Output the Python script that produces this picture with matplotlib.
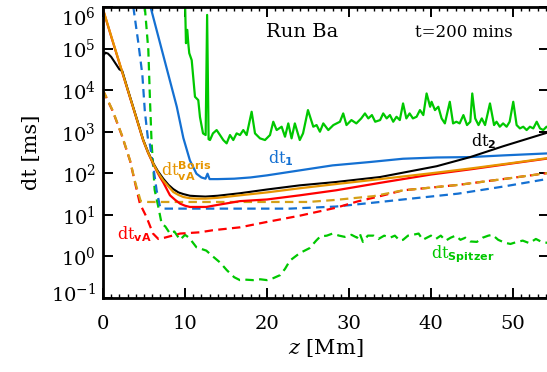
import numpy as np
import matplotlib.pyplot as plt
import matplotlib.transforms as mtransforms
from matplotlib.ticker import MultipleLocator, LogLocator, NullLocator

plt.rcParams['font.family'] = 'DejaVu Serif'
plt.rcParams['mathtext.fontset'] = 'custom'
plt.rcParams['mathtext.rm'] = 'DejaVu Serif'
plt.rcParams['mathtext.it'] = 'DejaVu Serif:italic'
plt.rcParams['mathtext.sf'] = 'DejaVu Sans:bold'

## values (height z in Mm, log10 of dt in ms)
z_dt2 = [0, 0.3, 0.6, 1.0, 1.5, 2.0, 2.35, 3.0, 4.0, 4.9, 5.5, 6.14, 6.7, 7.35, 8.0, 8.57,
         9.2, 9.8, 10.6, 11.4, 12.5, 14.0, 16.7, 20, 24, 28.4, 33.8, 40.7, 44.8, 48.8, 54.4]
log_dt2 = [4.82, 4.90, 4.88, 4.80, 4.65, 4.50, 4.46, 4.03, 3.39, 2.81, 2.51, 2.24, 2.05, 1.87,
           1.72, 1.62, 1.54, 1.50, 1.46, 1.45, 1.44, 1.46, 1.52, 1.61, 1.71, 1.79, 1.91, 2.17,
           2.39, 2.65, 2.99]

z_boris = [0, 1, 2, 3, 4, 4.9, 5.5, 6.14, 6.7, 7.35, 8.0, 8.57, 9.2, 9.8, 10.6, 11.4, 12.5,
           14.0, 16.7, 20, 24, 28.4, 33.8, 40, 45, 50, 54.4]
log_boris = [5.95, 5.30, 4.66, 4.02, 3.38, 2.80, 2.50, 2.23, 2.02, 1.83, 1.68, 1.55, 1.48,
             1.43, 1.40, 1.39, 1.39, 1.41, 1.47, 1.54, 1.64, 1.74, 1.86, 2.00, 2.12, 2.25, 2.37]

z_red = [0, 1, 2, 3, 4, 4.9, 5.5, 6.14, 6.7, 6.95, 7.35, 8.17, 8.8, 9.4, 10.0, 10.6, 12.6,
         14.0, 16.7, 20, 24, 28.4, 33.8, 40, 45, 50, 54.4]
log_red = [5.94, 5.29, 4.65, 4.01, 3.37, 2.79, 2.49, 2.22, 2.00, 1.91, 1.78, 1.47, 1.36,
           1.27, 1.22, 1.19, 1.19, 1.24, 1.33, 1.37, 1.47, 1.59, 1.77, 1.97, 2.10, 2.24, 2.36]

z_dt1 = [5.8, 6.6, 7.8, 9.0, 9.8, 10.6, 11.4, 12.0, 12.5, 12.75, 13.0, 14, 16, 18, 20, 24,
         28, 32.5, 36.6, 40.7, 44.8, 48.8, 54.4]
log_dt1 = [6.0, 5.4, 4.5, 3.6, 2.85, 2.31, 1.99, 1.90, 1.87, 1.99, 1.86, 1.86, 1.87, 1.90,
           1.95, 2.07, 2.19, 2.27, 2.35, 2.38, 2.39, 2.43, 2.48]

z_blue_d = [3.7, 4.3, 4.8, 5.1, 5.5, 5.7, 6.14, 6.54, 6.95, 7.5, 22.8, 28.4, 33.8, 36.6,
            43.3, 48.8, 54.4]
log_blue_d = [6.0, 5.15, 4.37, 3.5, 2.80, 2.72, 2.15, 1.59, 1.20, 1.15, 1.15, 1.20, 1.31,
              1.37, 1.51, 1.68, 1.87]

z_orange_d = [0, 1.2, 2.3, 3.3, 3.9, 4.6, 5.5, 25, 28.4, 33, 36.6, 43.3, 48.8, 54.4]
log_orange_d = [4.0, 3.5, 2.92, 2.31, 1.80, 1.33, 1.31, 1.31, 1.36, 1.45, 1.59, 1.72,
                1.86, 2.01]

z_vA = [0, 1.2, 2.3, 3.3, 3.9, 4.5, 5.3, 6.1, 6.75, 7.5, 9.4, 11.8, 13.4, 16.7, 20, 24,
        28.4, 31, 33.8, 36.6, 43.3, 48.8, 54.4]
log_vA = [3.99, 3.49, 2.91, 2.30, 1.78, 1.27, 0.95, 0.55, 0.42, 0.45, 0.55, 0.58, 0.63,
          0.70, 0.83, 0.98, 1.17, 1.32, 1.45, 1.59, 1.72, 1.86, 2.01]

z_spitzer = [5.1, 5.53, 5.73, 5.93, 6.15, 6.3, 6.75, 7.15, 7.6, 8.17, 8.7, 9.4, 10.0, 10.5,
             11.4, 12.6, 13.4, 14.3, 15.1, 16.0, 16.7, 17.5, 18.3, 19.2, 20.0, 20.8, 21.6,
             22.2, 22.8, 24.0, 25.2, 26.0, 26.5, 27.3, 28.0, 28.8, 29.5, 30.3, 31.0, 31.3,
             31.7, 32.3, 33.0, 33.6, 34.3, 35.0, 35.6, 36.2, 36.6, 37.2, 37.8, 38.5, 39.0,
             39.5, 40.0, 40.6, 41.2, 41.8, 42.4, 43.0, 43.6, 44.2, 44.8, 45.6, 46.3, 47.0,
             47.5, 48.2, 49.0, 49.7, 50.5, 51.2, 52.0, 52.8, 53.5, 54.4]
log_spitzer = [6.0, 4.96, 3.76, 2.72, 2.10, 1.60, 1.19, 0.79, 0.72, 0.55, 0.60, 0.40, 0.52,
               0.45, 0.22, 0.14, 0.0, -0.15, -0.33, -0.50, -0.57, -0.56, -0.57, -0.55, -0.57,
               -0.52, -0.45, -0.30, -0.10, 0.08, 0.20, 0.38, 0.48, 0.50, 0.55, 0.50, 0.47,
               0.52, 0.45, 0.56, 0.35, 0.50, 0.50, 0.42, 0.50, 0.45, 0.50, 0.38, 0.40, 0.50,
               0.52, 0.55, 0.40, 0.45, 0.50, 0.42, 0.50, 0.38, 0.45, 0.50, 0.40, 0.45, 0.36,
               0.35, 0.45, 0.50, 0.52, 0.40, 0.33, 0.30, 0.35, 0.38, 0.32, 0.42, 0.35, 0.32]

z_cfl = [10.0, 10.12, 10.28, 10.4, 10.52, 10.82, 11.22, 11.62, 11.83, 12.2, 12.52, 12.7,
         12.88, 13.05, 13.41, 13.86, 14.27, 14.67, 15.08, 15.49, 15.89, 16.3, 16.71, 17.11,
         17.52, 18.13, 18.54, 19.15, 19.76, 20.37, 20.77, 21.18, 21.79, 22.2, 22.6, 23.0,
         23.4, 24.0, 24.4, 25.0, 25.65, 26.05, 26.46, 26.87, 27.48, 28.1, 28.9, 29.3, 29.7,
         30.3, 30.9, 31.5, 31.95, 32.36, 32.8, 33.2, 33.8, 34.18, 34.6, 35.0, 35.4, 35.8,
         36.2, 36.6, 37.0, 37.4, 37.8, 38.25, 38.66, 39.07, 39.47, 39.9, 40.08, 40.49, 40.9,
         41.3, 41.7, 42.3, 42.7, 43.1, 43.5, 43.96, 44.4, 44.8, 45.04, 45.4, 45.8, 46.2,
         46.6, 47.2, 47.7, 48.0, 48.4, 48.8, 49.23, 49.6, 50.04, 50.45, 50.85, 51.26, 51.67,
         52.07, 52.48, 52.9, 53.3, 53.7, 54.1, 54.4]
log_cfl = [6.2, 5.13, 5.45, 5.13, 4.89, 4.72, 3.84, 3.76, 3.35, 2.96, 2.92, 5.81, 2.82, 2.80,
           2.96, 3.04, 2.92, 2.80, 2.72, 2.92, 2.80, 2.96, 2.92, 3.04, 2.92, 3.48, 2.96, 2.84,
           2.80, 2.92, 3.24, 3.04, 3.12, 2.88, 3.20, 2.84, 3.20, 2.80, 2.96, 3.52, 3.12, 3.16,
           3.00, 3.20, 3.04, 3.16, 3.24, 3.44, 3.16, 3.28, 3.20, 3.32, 3.44, 3.32, 3.40, 3.24,
           3.28, 3.44, 3.32, 3.40, 3.24, 3.36, 3.28, 3.68, 3.32, 3.44, 3.32, 3.36, 3.52, 3.40,
           3.92, 3.60, 3.72, 3.52, 3.60, 3.32, 3.20, 3.72, 3.20, 3.24, 3.20, 3.40, 3.16, 3.24,
           3.92, 3.32, 3.16, 3.32, 3.16, 3.68, 3.16, 3.24, 3.12, 3.20, 3.12, 3.24, 3.72, 3.16,
           3.08, 3.12, 3.04, 3.12, 3.08, 3.24, 3.08, 3.04, 3.12, 3.08]

blue = '#1470d2'
green = '#00c800'
orange = '#e69500'
gold = '#d4a017'
red = '#ff0000'

fig = plt.figure(figsize=(5.47, 3.72), dpi=100)
ax = fig.add_axes([103/547, 1 - 298/372, 446/547, 291/372])

def draw(z, logv, color, dashed=False, lw=1.6):
	ls = (0, (3.8, 2.4)) if dashed else '-'
	ax.plot(z, 10 ** np.array(logv), color=color, lw=lw, ls=ls)

## dashed curves
draw(z_spitzer, log_spitzer, green, dashed=True)
draw(z_blue_d, log_blue_d, blue, dashed=True)
draw(z_vA, log_vA, red, dashed=True)
draw(z_orange_d, log_orange_d, gold, dashed=True)

## solid curves
draw(z_cfl, log_cfl, green)
draw(z_dt1, log_dt1, blue)
draw(z_red, log_red, red)
draw(z_dt2, log_dt2, 'black', lw=1.5)
draw(z_boris, log_boris, orange)

ax.set_yscale('log')
ax.set_xlim(0, 54.4)
ax.set_ylim(1e-1, 1e6)
ax.xaxis.set_major_locator(MultipleLocator(10))
ax.xaxis.set_minor_locator(MultipleLocator(1))
ax.yaxis.set_major_locator(LogLocator(base=10, numticks=20))
ax.yaxis.set_minor_locator(NullLocator())
ax.tick_params(which='both', direction='in', top=True, right=True)
ax.tick_params(which='major', length=7, width=1.4, labelsize=14)
ax.tick_params(which='minor', length=3, width=1.0)
ax.tick_params(axis='x', pad=12)
ax.tick_params(axis='y', pad=5)
for s in ax.spines.values():
	s.set_linewidth(2)

ax.set_xlabel(r'$z$ [Mm]', fontsize=15, labelpad=3)
ax.set_ylabel('dt [ms]', fontsize=15, labelpad=7)

## nudge the end labels of the y axis inside the figure, as in the original
fig.canvas.draw()
locs = ax.yaxis.get_majorticklocs()
for tick, loc in zip(ax.yaxis.get_major_ticks(len(locs)), locs):
	if np.isclose(loc, 1e6):
		dy = -0.09
	elif np.isclose(loc, 1e-1):
		dy = 0.06
	else:
		continue
	shift = mtransforms.ScaledTranslation(0, dy, fig.dpi_scale_trans)
	tick.label1.set_transform(tick.label1.get_transform() + shift)

## labels
ax.text(0.365, 0.897, 'Run Ba', transform=ax.transAxes, fontsize=14)
ax.text(0.70, 0.897, 't=200 mins', transform=ax.transAxes, fontsize=12)
ax.text(20.1, 10 ** 2.25, r'dt$_{\mathsf{1}}$', color=blue, fontsize=11.5)
ax.text(44.9, 10 ** 2.64, r'dt$_{\mathsf{2}}$', color='black', fontsize=11.5)
ax.text(7.1, 10 ** 1.92, r'dt$_{\mathsf{vA}}^{\mathsf{Boris}}$', color=orange, fontsize=11.5)
ax.text(1.65, 10 ** 0.42, r'dt$_{\mathsf{vA}}$', color=red, fontsize=11.5)
ax.text(40.0, 10 ** -0.05, r'dt$_{\mathsf{Spitzer}}$', color=green, fontsize=11.5)

fig.savefig('out.png', dpi=100)
